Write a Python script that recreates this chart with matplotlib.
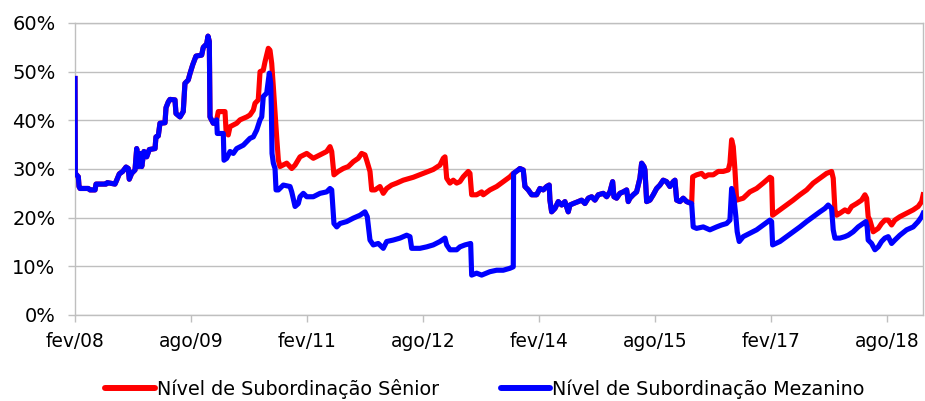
import matplotlib
matplotlib.use("Agg")
import matplotlib.pyplot as plt
import numpy as np

# ---------------- data (decimal years, % values) ----------------
# shared segment (both series coincide)
early_t = [2008.083, 2008.087, 2008.126, 2008.135, 2008.148, 2008.255, 2008.277, 2008.342, 2008.355, 2008.484,
           2008.501, 2008.600, 2008.622, 2008.656, 2008.700, 2008.743, 2008.772, 2008.785, 2008.816, 2008.859,
           2008.881, 2008.902, 2008.924, 2008.946, 2008.975, 2009.010, 2009.044, 2009.118, 2009.130, 2009.160,
           2009.182, 2009.247, 2009.260, 2009.290, 2009.311, 2009.376, 2009.389, 2009.441, 2009.483, 2009.505,
           2009.548, 2009.570, 2009.605, 2009.648, 2009.721, 2009.742, 2009.786, 2009.803, 2009.820, 2009.829,
           2009.871, 2009.915]
early_v = [48.6, 29.1, 28.4, 26.4, 26.0, 26.0, 25.7, 25.7, 26.9, 26.9,
           27.2, 26.9, 27.7, 29.0, 29.5, 30.4, 30.1, 27.9, 29.1, 29.8,
           34.2, 30.5, 33.2, 30.5, 33.6, 32.5, 34.0, 34.2, 36.6, 36.8,
           39.4, 39.5, 42.6, 43.8, 44.3, 44.2, 41.4, 40.7, 41.8, 47.6,
           48.3, 49.6, 51.4, 53.2, 53.4, 55.0, 55.7, 57.3, 56.2, 40.7,
           39.4, 40.1]

sen_mid_t = [2009.936, 2010.023, 2010.036, 2010.065, 2010.088, 2010.174, 2010.217, 2010.304, 2010.346, 2010.389,
             2010.411, 2010.453, 2010.476, 2010.518, 2010.540, 2010.583, 2010.605, 2010.627, 2010.648, 2010.691,
             2010.713, 2010.734, 2010.821, 2010.886, 2010.929, 2010.993, 2011.080, 2011.165, 2011.252, 2011.338,
             2011.381, 2011.403, 2011.432, 2011.488, 2011.552, 2011.617, 2011.682, 2011.746, 2011.790, 2011.833,
             2011.855, 2011.898, 2011.920, 2011.962, 2012.027, 2012.070, 2012.114, 2012.178, 2012.243, 2012.328,
             2012.458, 2012.587, 2012.716, 2012.803, 2012.846, 2012.868, 2012.890, 2012.932, 2012.975, 2013.019,
             2013.061, 2013.104, 2013.169, 2013.191, 2013.213, 2013.277, 2013.342, 2013.363, 2013.449, 2013.536,
             2013.621, 2013.708, 2013.751]
sen_mid_v = [41.8, 41.8, 38.0, 37.0, 38.7, 39.4, 40.1, 40.7, 41.1, 42.1,
             43.5, 44.2, 50.0, 50.3, 52.0, 54.8, 54.4, 51.7, 46.9, 36.6,
             31.8, 30.5, 31.2, 30.1, 30.8, 32.5, 33.2, 32.2, 32.9, 33.6,
             34.6, 33.6, 28.8, 29.5, 30.1, 30.5, 31.5, 32.2, 33.2, 32.9,
             31.8, 29.5, 25.7, 25.7, 26.4, 25.0, 26.0, 26.7, 27.1, 27.7,
             28.3, 29.1, 29.9, 30.8, 32.2, 32.5, 28.1, 27.1, 27.7, 27.1,
             27.4, 28.4, 29.5, 29.1, 24.7, 24.7, 25.3, 24.7, 25.7, 26.4,
             27.4, 28.4, 29.1]

mez_mid_t = [2009.923, 2010.001, 2010.010, 2010.045, 2010.088, 2010.130, 2010.174, 2010.260, 2010.304, 2010.346,
             2010.389, 2010.433, 2010.476, 2010.498, 2010.518, 2010.562, 2010.596, 2010.614, 2010.622, 2010.631,
             2010.648, 2010.670, 2010.683, 2010.713, 2010.777, 2010.864, 2010.886, 2010.929, 2010.971, 2010.993,
             2011.036, 2011.080, 2011.165, 2011.252, 2011.338, 2011.381, 2011.403, 2011.432, 2011.468, 2011.510,
             2011.597, 2011.682, 2011.769, 2011.833, 2011.863, 2011.898, 2011.941, 2012.005, 2012.070, 2012.114,
             2012.199, 2012.286, 2012.372, 2012.415, 2012.437, 2012.544, 2012.631, 2012.716, 2012.803, 2012.868,
             2012.890, 2012.932, 2013.019, 2013.061, 2013.126, 2013.200, 2013.213, 2013.277, 2013.342, 2013.449,
             2013.536, 2013.621, 2013.708, 2013.751]
mez_mid_v = [37.3, 37.3, 31.8, 32.2, 33.6, 33.2, 34.2, 34.9, 35.6, 36.3,
             36.6, 38.0, 40.1, 40.7, 44.9, 45.6, 49.7, 47.6, 42.8, 33.2,
             31.2, 30.1, 25.7, 25.7, 26.7, 26.4, 25.3, 22.3, 22.9, 24.3,
             25.0, 24.3, 24.3, 25.0, 25.3, 26.0, 25.7, 18.8, 18.1, 18.8,
             19.2, 19.9, 20.5, 21.2, 20.2, 15.4, 14.4, 14.7, 13.7, 15.1,
             15.4, 15.8, 16.4, 16.1, 13.7, 13.7, 14.0, 14.4, 15.1, 15.8,
             14.4, 13.4, 13.4, 14.0, 14.4, 14.7, 8.2, 8.6, 8.2, 8.9,
             9.2, 9.2, 9.6, 9.9]

# shared segment 2013-2016
common_t = [2013.755, 2013.815, 2013.837, 2013.880, 2013.902, 2013.945, 2013.989, 2014.053, 2014.096, 2014.139,
            2014.183, 2014.216, 2014.225, 2014.247, 2014.290, 2014.333, 2014.377, 2014.419, 2014.462, 2014.484,
            2014.527, 2014.591, 2014.635, 2014.678, 2014.721, 2014.765, 2014.807, 2014.850, 2014.915, 2014.959,
            2015.001, 2015.036, 2015.053, 2015.088, 2015.130, 2015.173, 2015.217, 2015.238, 2015.260, 2015.302,
            2015.346, 2015.389, 2015.411, 2015.441, 2015.454, 2015.476, 2015.518, 2015.561, 2015.605, 2015.648,
            2015.690, 2015.734, 2015.777, 2015.820, 2015.842, 2015.864, 2015.906, 2015.949, 2015.993, 2016.058]
common_v = [29.1, 29.8, 30.1, 29.8, 26.4, 25.7, 24.7, 24.7, 26.0, 25.7,
            26.4, 26.7, 23.6, 21.2, 21.9, 23.3, 22.6, 23.3, 21.2, 22.6,
            22.9, 23.3, 23.6, 22.9, 24.0, 24.3, 23.6, 24.7, 25.0, 24.3,
            25.3, 27.4, 24.3, 24.0, 25.0, 25.3, 25.7, 23.3, 24.0, 24.7,
            25.3, 28.1, 31.2, 30.5, 29.8, 23.3, 23.6, 24.7, 26.0, 26.7,
            27.7, 27.4, 26.4, 27.4, 27.7, 23.6, 23.3, 24.0, 23.3, 22.9]

sen_late_t = [2016.071, 2016.122, 2016.187, 2016.230, 2016.272, 2016.337, 2016.402, 2016.466, 2016.531, 2016.553,
              2016.575, 2016.596, 2016.618, 2016.640, 2016.725, 2016.811, 2016.898, 2016.983, 2017.070, 2017.092,
              2017.105, 2017.199, 2017.286, 2017.371, 2017.458, 2017.545, 2017.630, 2017.717, 2017.803, 2017.868,
              2017.889, 2017.911, 2017.933, 2017.975, 2018.040, 2018.083, 2018.127, 2018.191, 2018.256, 2018.299,
              2018.321, 2018.341, 2018.363, 2018.406, 2018.471, 2018.514, 2018.557, 2018.600, 2018.644, 2018.686,
              2018.751, 2018.838, 2018.923, 2018.988, 2019.032, 2019.052]
sen_late_v = [28.4, 28.8, 29.1, 28.4, 28.8, 28.8, 29.5, 29.5, 29.8, 31.2,
              36.0, 34.6, 29.8, 23.6, 24.0, 25.3, 26.0, 27.1, 28.3, 28.1,
              20.5, 21.6, 22.6, 23.6, 24.7, 25.7, 27.1, 28.1, 29.1, 29.5,
              28.1, 21.6, 20.5, 20.9, 21.6, 21.2, 22.3, 22.9, 23.6, 24.7,
              24.0, 20.2, 19.5, 17.1, 17.8, 18.8, 19.5, 19.5, 18.5, 19.5,
              20.2, 20.9, 21.6, 22.3, 23.3, 24.7]

mez_late_t = [2016.078, 2016.122, 2016.208, 2016.294, 2016.381, 2016.446, 2016.510, 2016.553, 2016.575, 2016.605,
              2016.630, 2016.647, 2016.673, 2016.725, 2016.811, 2016.898, 2016.983, 2017.070, 2017.092, 2017.105,
              2017.199, 2017.286, 2017.371, 2017.458, 2017.545, 2017.630, 2017.717, 2017.781, 2017.824, 2017.868,
              2017.889, 2017.911, 2017.975, 2018.040, 2018.083, 2018.147, 2018.212, 2018.276, 2018.311, 2018.328,
              2018.341, 2018.385, 2018.428, 2018.471, 2018.514, 2018.557, 2018.600, 2018.644, 2018.686, 2018.751,
              2018.838, 2018.923, 2018.988, 2019.032, 2019.052]
mez_late_v = [18.1, 17.8, 18.1, 17.5, 18.1, 18.5, 18.8, 19.5, 26.0, 24.0,
              20.2, 17.1, 15.1, 16.1, 16.8, 17.5, 18.5, 19.5, 19.2, 14.4,
              15.1, 16.1, 17.1, 18.1, 19.2, 20.2, 21.2, 21.9, 22.6, 21.9,
              17.5, 15.8, 15.8, 16.1, 16.4, 17.1, 18.1, 18.8, 19.2, 18.1,
              15.4, 14.7, 13.4, 14.0, 15.1, 15.8, 16.1, 14.7, 15.4, 16.4,
              17.5, 18.1, 19.2, 20.2, 20.9]

tick_pos = [2008.083, 2009.583, 2011.083, 2012.583, 2014.083, 2015.583, 2017.083, 2018.583]
tick_labels = ["fev/08", "ago/09", "fev/11", "ago/12", "fev/14", "ago/15", "fev/17", "ago/18"]
y_ticks = [0, 10, 20, 30, 40, 50, 60]

series_names = ["Nível de Subordinação Sênior", "Nível de Subordinação Mezanino"]
series_colors = ["#FF0000", "#0000FF"]

for a, b in [(early_t, early_v), (sen_mid_t, sen_mid_v), (mez_mid_t, mez_mid_v),
             (common_t, common_v), (sen_late_t, sen_late_v), (mez_late_t, mez_late_v)]:
    assert len(a) == len(b), (len(a), len(b))

sen_t = early_t + sen_mid_t + common_t + sen_late_t
sen_v = early_v + sen_mid_v + common_v + sen_late_v
mez_t = early_t + mez_mid_t + common_t + mez_late_t
mez_v = early_v + mez_mid_v + common_v + mez_late_v

# ---------------- figure ----------------
plt.rcParams['font.family'] = ['DejaVu Sans']
W, H = 925, 401
fig = plt.figure(figsize=(W / 100, H / 100), dpi=100)
ax = fig.add_axes([75 / W, (H - 315) / H, 848 / W, 292 / H])

grid_c = "#BFBFBF"
ax.plot(sen_t, sen_v, color=series_colors[0], lw=3.7, solid_joinstyle='round',
        label=series_names[0], zorder=3)
ax.plot(mez_t, mez_v, color=series_colors[1], lw=3.7, solid_joinstyle='round',
        label=series_names[1], zorder=4)

ax.set_xlim(2008.083, 2019.05)
ax.set_ylim(0, 60)
ax.set_yticks(y_ticks)
ax.set_yticklabels([f"{v}%" for v in y_ticks])
ax.set_xticks(tick_pos)
ax.set_xticklabels(tick_labels)
ax.yaxis.grid(True, color=grid_c, lw=1.0, zorder=0)
ax.set_axisbelow(True)
for s in ax.spines.values():
    s.set_color(grid_c)
    s.set_linewidth(1.0)
ax.tick_params(axis='both', colors=grid_c, labelcolor='black', length=5, width=1.0)
ax.tick_params(axis='y', pad=9, labelsize=14)
ax.tick_params(axis='x', pad=7, labelsize=13.4)

leg = fig.legend(loc='center', bbox_to_anchor=(485 / W, (H - 389) / H), ncol=2, frameon=False,
                 fontsize=13.8, handlelength=2.6, handletextpad=0.1, columnspacing=3.2,
                 borderpad=0, borderaxespad=0)
for line in leg.get_lines():
    line.set_linewidth(4.3)
    line.set_solid_capstyle('round')

fig.savefig("out.png", dpi=100)
